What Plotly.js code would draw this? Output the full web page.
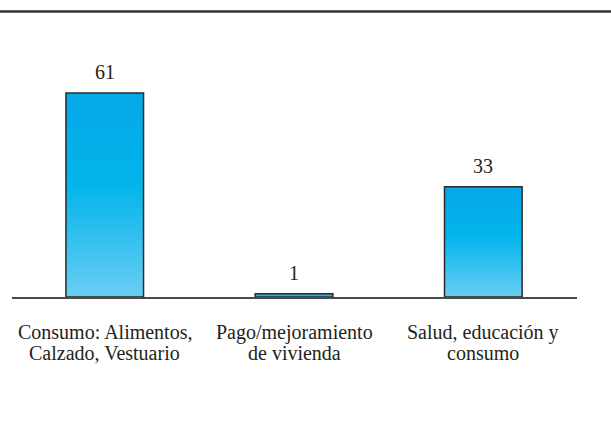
<!DOCTYPE html>
<html>
<head>
<meta charset="utf-8">
<script src="https://cdn.plot.ly/plotly-3.0.1.min.js"></script>
<style>html,body{margin:0;padding:0;background:#fff;}#chart{width:611px;height:448px;}</style>
</head>
<body>
<div id="chart"></div>
<script>
const categories = ["Consumo: Alimentos,<br>Calzado, Vestuario", "Pago/mejoramiento<br>de vivienda", "Salud, educación y<br>consumo"];
const values = [61, 1, 33];
const valueLabels = ["61", "1", "33"];

const xIdx = categories.map((c, i) => i);
const FONT = "Liberation Serif";
const TXT = "#231f20";

const trace = {
  type: "bar",
  x: xIdx,
  y: values,
  width: 0.41,
  marker: { color: "#1ab6ec", line: { color: "#2b2b2b", width: 1.5 } },
  hoverinfo: "none"
};

const annotations = values.map((v, i) => ({
  x: i, y: v, xref: "x", yref: "y",
  text: valueLabels[i], showarrow: false,
  yanchor: "bottom", yshift: 8,
  font: { family: FONT, size: 20, color: TXT }
}));

// category labels: one annotation per line, tight line spacing like the reference
categories.forEach((c, i) => {
  c.split("<br>").forEach((line, k) => {
    annotations.push({
      x: i, y: 0, xref: "x", yref: "paper",
      text: line, showarrow: false,
      xanchor: "center", yanchor: "middle",
      yshift: -(35 + k * 21),
      font: { family: FONT, size: 20, color: TXT }
    });
  });
});

const layout = {
  width: 611, height: 448,
  margin: { l: 12, r: 34, t: 63, b: 151 },
  paper_bgcolor: "#fff", plot_bgcolor: "#fff",
  showlegend: false,
  bargap: 0,
  font: { family: FONT },
  xaxis: {
    range: [-0.49, 2.495],
    tickmode: "array", tickvals: xIdx, ticktext: categories,
    showticklabels: false,
    showgrid: false, zeroline: false,
    showline: true, linecolor: "#4a4a4a", linewidth: 1.5,
    ticks: "",
    fixedrange: true
  },
  yaxis: {
    range: [0, 70], visible: false, showgrid: false, zeroline: false, fixedrange: true
  },
  annotations: annotations,
  shapes: [{
    type: "line", xref: "paper", yref: "paper",
    x0: -12 / 565, x1: 599 / 565, y0: (297 - 11.5) / 234, y1: (297 - 11.5) / 234,
    line: { color: "#333", width: 2.5 }
  }]
};

function applyGradient(gd) {
  const svg = gd.querySelector(".main-svg");
  if (!svg) return;
  let defs = svg.querySelector("defs");
  if (!defs) { defs = document.createElementNS("http://www.w3.org/2000/svg", "defs"); svg.insertBefore(defs, svg.firstChild); }
  if (!svg.querySelector("#barGrad")) {
    const g = document.createElementNS("http://www.w3.org/2000/svg", "linearGradient");
    g.setAttribute("id", "barGrad");
    g.setAttribute("x1", "0"); g.setAttribute("y1", "0"); g.setAttribute("x2", "0"); g.setAttribute("y2", "1");
    [["0", "#05a8e8"], ["0.45", "#02b5eb"], ["1", "#6acdf3"]].forEach(([o, c]) => {
      const s = document.createElementNS("http://www.w3.org/2000/svg", "stop");
      s.setAttribute("offset", o); s.setAttribute("stop-color", c);
      g.appendChild(s);
    });
    defs.appendChild(g);
  }
  gd.querySelectorAll(".bars .point path").forEach(p => {
    p.style.fill = "url(#barGrad)";
  });
}

Plotly.newPlot("chart", [trace], layout, { displayModeBar: false, staticPlot: true }).then(gd => {
  applyGradient(gd);
  gd.on("plotly_afterplot", () => applyGradient(gd));
});
</script>
</body>
</html>
